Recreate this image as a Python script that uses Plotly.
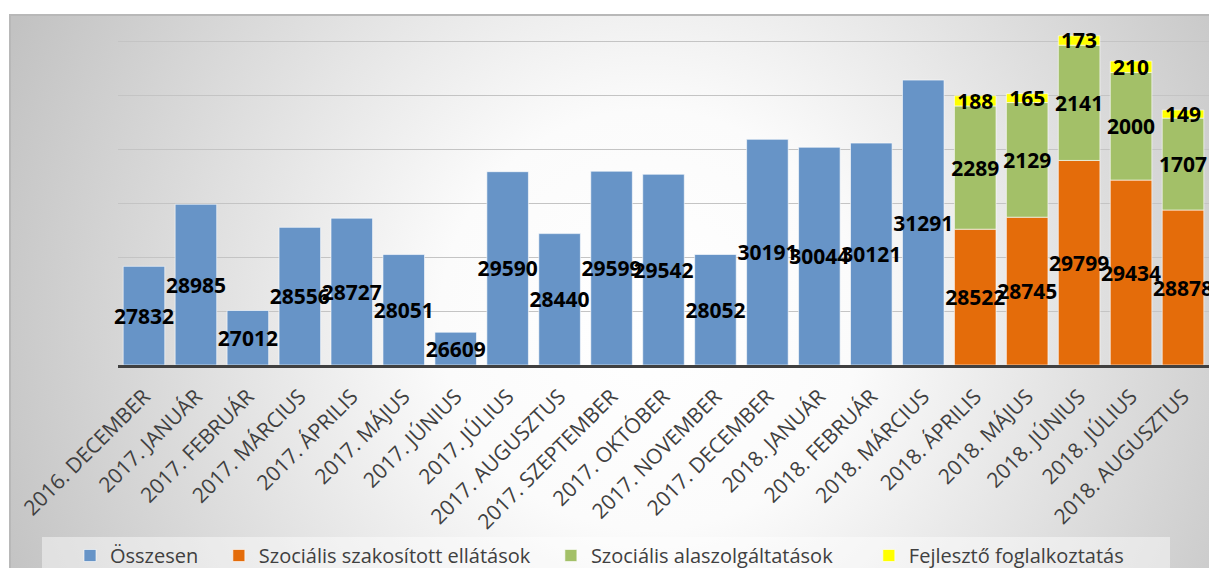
import base64
import plotly.graph_objects as go

# ---------------- data ----------------
categories = [
    "2016. DECEMBER", "2017. JANUÁR", "2017. FEBRUÁR", "2017. MÁRCIUS",
    "2017. ÁPRILIS", "2017. MÁJUS", "2017. JÚNIUS", "2017. JÚLIUS",
    "2017. AUGUSZTUS", "2017. SZEPTEMBER", "2017. OKTÓBER", "2017. NOVEMBER",
    "2017. DECEMBER", "2018. JANUÁR", "2018. FEBRUÁR", "2018. MÁRCIUS",
    "2018. ÁPRILIS", "2018. MÁJUS", "2018. JÚNIUS", "2018. JÚLIUS",
    "2018. AUGUSZTUS",
]
osszesen = [27832, 28985, 27012, 28556, 28727, 28051, 26609, 29590, 28440,
            29599, 29542, 28052, 30191, 30044, 30121, 31291,
            None, None, None, None, None]
szakositott = [None] * 16 + [28522, 28745, 29799, 29434, 28878]
alapszolg = [None] * 16 + [2289, 2129, 2141, 2000, 1707]
fejleszto = [None] * 16 + [188, 165, 173, 210, 149]

series_names = ["Összesen", "Szociális szakosított ellátások",
                "Szociális alaszolgáltatások", "Fejlesztő foglalkoztatás"]

# ---------------- style ----------------
AXIS_MIN, AXIS_MAX = 26000, 32500
W, H = 1209, 568
ML, MR, MT, MB = 118, 0, 15, 203
colors = ["#6794C7", "#E46C0A", "#A3C068", "#FFFF00"]
LABEL_FONT = dict(family="Open Sans", size=21, color="black", weight="bold")
NB = "\u00a0"


def seg_len(vals, base):
    return [None if v is None else v - b for v, b in zip(vals, base)]


base_first = [AXIS_MIN] * len(categories)
green_base = [None if v is None else v for v in szakositott]
yellow_base = [None if a is None else a + b for a, b in zip(szakositott, alapszolg)]

fig = go.Figure()


def add(name, color, y, base, text, pad):
    fig.add_trace(go.Bar(
        name=name + pad, x=categories, y=y, base=base,
        marker=dict(color=color, line=dict(color="rgba(255,255,255,0.6)", width=1)),
        text=["" if t is None else str(t) for t in text],
        textposition="inside", insidetextanchor="middle",
        textangle=0, constraintext="none",
        textfont=LABEL_FONT, insidetextfont=LABEL_FONT,
        cliponaxis=False,
        hoverinfo="skip",
    ))


add(series_names[0], colors[0], seg_len(osszesen, base_first), base_first, osszesen, NB * 3)
add(series_names[1], colors[1], seg_len(szakositott, base_first), base_first, szakositott, NB * 3)
add(series_names[2], colors[2], alapszolg, green_base, alapszolg, NB * 6)
add(series_names[3], colors[3], fejleszto, yellow_base, fejleszto, "")

# background gradient (chart area starting at x=9, y=14)
bg_w, bg_h = W - 9, H - 14
svg = f'''<svg xmlns="http://www.w3.org/2000/svg" width="{bg_w}" height="{bg_h}" viewBox="0 0 {bg_w} {bg_h}" preserveAspectRatio="none">
<defs><radialGradient id="g" gradientUnits="userSpaceOnUse" cx="641" cy="306" r="700">
<stop offset="0" stop-color="#ffffff"/><stop offset="0.3" stop-color="#fbfbfb"/><stop offset="1" stop-color="#c2c2c2"/>
</radialGradient></defs>
<rect x="0" y="0" width="{bg_w}" height="{bg_h}" fill="url(#g)"/>
<path d="M1,{bg_h} V1 H{bg_w}" stroke="#b8b8b8" stroke-width="2" fill="none"/>
</svg>'''
src = "data:image/svg+xml;base64," + base64.b64encode(svg.encode("utf-8")).decode()
pw, ph = W - ML - MR, H - MT - MB
fig.add_layout_image(dict(
    source=src, xref="paper", yref="paper",
    x=(9 - ML) / pw, y=(H - MB - 14) / ph,
    sizex=bg_w / pw, sizey=bg_h / ph,
    xanchor="left", yanchor="top", sizing="stretch", layer="below",
))
# lighter legend band
fig.add_shape(
    type="rect", xref="paper", yref="paper", layer="below",
    x0=(42 - ML) / pw, x1=(1170 - ML) / pw,
    y0=(H - MB - H - 2) / ph, y1=(H - MB - 537) / ph,
    fillcolor="rgba(255,255,255,0.45)", line=dict(width=0),
)

fig.update_layout(
    width=W, height=H, autosize=False,
    margin=dict(l=ML, r=MR, t=MT, b=MB, pad=0),
    paper_bgcolor="white", plot_bgcolor="rgba(0,0,0,0)",
    barmode="overlay", bargap=0.2,
    showlegend=True,
    legend=dict(
        orientation="h", xref="container", yref="container",
        x=70 / W, y=1 - 536 / H, xanchor="left", yanchor="top",
        bgcolor="rgba(0,0,0,0)",
        font=dict(family="Open Sans", size=20, color="#404040"),
        traceorder="normal",
    ),
    font=dict(family="Open Sans", color="#404040"),
)
fig.update_xaxes(
    type="category", tickangle=-45,
    tickfont=dict(family="Open Sans", size=21, color="#404040"),
    ticklabelstandoff=8,
    showline=True, linecolor="#404040", linewidth=3,
    ticks="", showgrid=False, automargin=False,
)
fig.update_yaxes(
    range=[AXIS_MIN, AXIS_MAX], tick0=AXIS_MIN, dtick=1000,
    showticklabels=False, showgrid=True, gridcolor="#c4c4c4", gridwidth=1,
    zeroline=False, automargin=False,
)

fig.write_html(
    "out.html",
    config={"displayModeBar": False},
    post_script="document.body.style.margin='0';document.body.style.overflow='hidden';",
)
